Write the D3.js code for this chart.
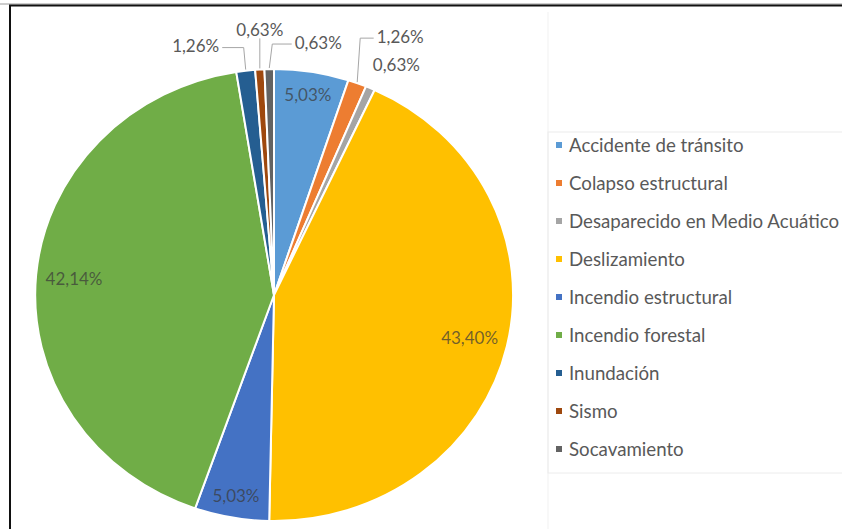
<!DOCTYPE html>
<html>
<head>
<meta charset="utf-8">
<script src="https://cdn.jsdelivr.net/npm/d3@7"></script>
<style>
  html, body { margin: 0; padding: 0; background: #fff; }
  svg { display: block; }
</style>
</head>
<body>
<svg id="chart" width="842" height="529"></svg>
<script>
// Emergencias atendidas por tipo de evento (porcentaje)
const categories = [
  "Accidente de tránsito",
  "Colapso estructural",
  "Desaparecido en Medio Acuático",
  "Deslizamiento",
  "Incendio estructural",
  "Incendio forestal",
  "Inundación",
  "Sismo",
  "Socavamiento"
];
const values = [5.03, 1.26, 0.63, 43.40, 5.03, 42.14, 1.26, 0.63, 0.63];
const colors = ["#5B9BD5", "#ED7D31", "#A5A5A5", "#FFC000", "#4472C4", "#70AD47", "#255E91", "#9E480E", "#636363"];

// Placement of the small-slice labels, relative to the slice's outer edge
const outsideLabels = {
  "Colapso estructural":            { dx: 43, dy: -47, leader: true },
  "Desaparecido en Medio Acuático": { dx: 26, dy: -24, leader: false },
  "Inundación":                     { dx: -50, dy: -25, leader: true },
  "Sismo":                          { dx: 0, dy: -40, leader: true },
  "Socavamiento":                   { dx: 49, dy: -27, leader: true }
};

const W = 842, H = 529;
const cx = 274, cy = 295, rx = 239, ry = 226;
const fontFam = "Lato, 'Open Sans', sans-serif";
const fmt = v => d3.format(".2f")(v).replace(".", ",") + "%";

const svg = d3.select("#chart");

// frame
svg.append("rect").attr("width", W).attr("height", H).attr("fill", "#fff");
svg.append("line").attr("x1", 0).attr("x2", W).attr("y1", 4).attr("y2", 4)
  .attr("stroke", "#9a9a9a").attr("stroke-width", 1);
svg.append("line").attr("x1", 9).attr("x2", W).attr("y1", 5.5).attr("y2", 5.5)
  .attr("stroke", "#111").attr("stroke-width", 2);
svg.append("line").attr("x1", 10).attr("x2", 10).attr("y1", 5).attr("y2", H)
  .attr("stroke", "#111").attr("stroke-width", 2);

// faint legend box
svg.append("line").attr("x1", 548).attr("x2", 548).attr("y1", 12).attr("y2", H)
  .attr("stroke", "#f1f1f1").attr("stroke-width", 1);
svg.append("rect").attr("x", 548).attr("y", 132).attr("width", 320).attr("height", 341)
  .attr("fill", "none").attr("stroke", "#ececec").attr("stroke-width", 1);

const pie = d3.pie().sort(null).value(d => d.value).startAngle(0).endAngle(2 * Math.PI);
const data = categories.map((c, i) => ({ category: c, value: values[i], color: colors[i] }));
const arcs = pie(data);

// pie drawn on a unit circle and stretched into the plot's ellipse
const unitArc = d3.arc().innerRadius(0).outerRadius(1);
const pieG = svg.append("g").attr("transform", `translate(${cx},${cy}) scale(${rx},${ry})`);
pieG.selectAll("path").data(arcs).join("path")
  .attr("d", unitArc)
  .attr("fill", d => d.data.color)
  .attr("stroke", "#fff")
  .attr("stroke-width", 2)
  .attr("vector-effect", "non-scaling-stroke")
  .attr("stroke-linejoin", "round");

const toScreen = (angle, r) => [cx + rx * r * Math.sin(angle), cy - ry * r * Math.cos(angle)];
const midAngle = d => (d.startAngle + d.endAngle) / 2;

// labels inside the larger slices
const labelG = svg.append("g").attr("font-family", fontFam);
arcs.filter(d => !outsideLabels[d.data.category]).forEach(d => {
  const frac = d.data.value > 20 ? 0.84 : 0.9;
  const [x, y] = toScreen(midAngle(d), frac);
  labelG.append("text")
    .attr("x", x).attr("y", y)
    .attr("text-anchor", "middle").attr("dominant-baseline", "central")
    .attr("font-size", 17)
    .attr("fill", "#3a3a3a").attr("fill-opacity", 0.72)
    .text(fmt(d.data.value));
});

// labels outside the thin slices, with leader lines
arcs.filter(d => outsideLabels[d.data.category]).forEach(d => {
  const o = outsideLabels[d.data.category];
  const [ex, ey] = toScreen(midAngle(d), 1);
  const lx = ex + o.dx, ly = ey + o.dy;
  const t = labelG.append("text")
    .attr("x", lx).attr("y", ly)
    .attr("text-anchor", "middle").attr("dominant-baseline", "central")
    .attr("font-size", 17)
    .attr("fill", "#595959")
    .text(fmt(d.data.value));
  if (o.leader) {
    const w = t.node().getComputedTextLength();
    let pts;
    if (Math.abs(o.dx) < 5) {
      pts = [[ex, ey - 1], [lx, ly + 9]];
    } else {
      const side = o.dx > 0 ? -1 : 1;
      const endX = lx + side * (w / 2 + 3);
      pts = [[ex, ey - 1], [ex + (o.dx > 0 ? 3 : -2), ly + 2], [endX, ly + 2]];
    }
    svg.append("path")
      .attr("d", d3.line()(pts))
      .attr("fill", "none").attr("stroke", "#a6a6a6").attr("stroke-width", 1);
  }
});

// legend
const legendY = d3.scalePoint().domain(categories).range([145, 449]);
const legG = svg.append("g").attr("font-family", fontFam);
categories.forEach((c, i) => {
  const y = legendY(c);
  legG.append("rect").attr("x", 556).attr("y", y - 3).attr("width", 6).attr("height", 6)
    .attr("fill", colors[i]);
  legG.append("text").attr("x", 569).attr("y", y)
    .attr("dominant-baseline", "central")
    .attr("font-size", 18.7).attr("fill", "#595959")
    .text(c);
});
</script>
</body>
</html>
